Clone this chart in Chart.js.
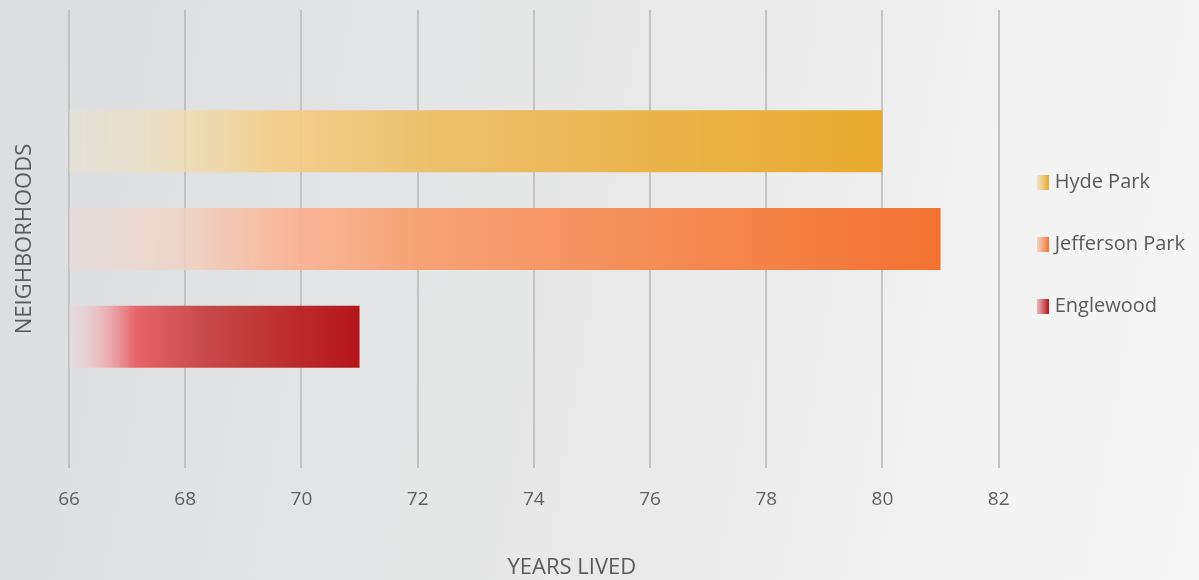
<!DOCTYPE html>
<html>
<head>
<meta charset="utf-8">
<script src="https://cdn.jsdelivr.net/npm/chart.js@4"></script>
<style>
  html, body { margin: 0; padding: 0; width: 1199px; height: 580px; overflow: hidden; }
  body { background: linear-gradient(100deg, #dcdddf 0%, #e3e4e5 30%, #ebebeb 60%, #f4f4f4 85%, #f6f6f6 100%); }
  canvas { display: block; }
</style>
</head>
<body>
<canvas id="c" width="1199" height="580"></canvas>
<script>
// ---- data ----
const neighborhoods = ['Hyde Park', 'Jefferson Park', 'Englewood'];
const yearsLived = [80, 81, 71];
const xMin = 66;
const xMax = 82;
const xStep = 2;
const xAxisTitle = 'YEARS LIVED';
const yAxisTitle = 'NEIGHBORHOODS';

// gradient stops per series (position along bar, colour)
const gradientStops = [
  [[0, 'rgba(238,228,205,0.35)'], [0.12, 'rgba(240,222,180,0.7)'], [0.25, 'rgba(242,206,138,0.95)'], [0.45, 'rgb(236,192,108)'], [1, 'rgb(232,168,44)']],
  [[0, 'rgba(240,220,212,0.35)'], [0.13, 'rgba(240,208,192,0.8)'], [0.24, 'rgba(248,182,152,0.95)'], [0.4, 'rgb(246,162,118)'], [1, 'rgb(243,114,48)']],
  [[0, 'rgba(235,215,218,0.35)'], [0.12, 'rgba(236,175,180,0.85)'], [0.23, 'rgb(230,100,106)'], [0.45, 'rgb(200,76,78)'], [0.72, 'rgb(190,48,50)'], [1, 'rgb(180,22,26)']]
];

function legendIcon(stops) {
  const cv = document.createElement('canvas');
  cv.width = 12; cv.height = 15;
  const g = cv.getContext('2d');
  const gr = g.createLinearGradient(0, 0, 12, 0);
  gr.addColorStop(0, stops[1][1]);
  gr.addColorStop(1, stops[stops.length - 1][1]);
  g.fillStyle = gr;
  g.fillRect(0, 0, 12, 15);
  return cv;
}
const icons = gradientStops.map(legendIcon);

function barFill(i) {
  return (ctx) => {
    const chart = ctx.chart;
    const x = chart.scales.x;
    if (!chart.chartArea || !x) return gradientStops[i][gradientStops[i].length - 1][1];
    const x0 = x.getPixelForValue(x.min);
    const x1 = x.getPixelForValue(yearsLived[i]);
    const gr = chart.ctx.createLinearGradient(x0, 0, x1, 0);
    gradientStops[i].forEach(([p, c]) => gr.addColorStop(p, c));
    return gr;
  };
}

const xTitlePlugin = {
  id: 'xTitle',
  afterDraw(chart) {
    const c = chart.ctx;
    c.save();
    c.font = '22px "Open Sans"';
    c.fillStyle = '#5a5a5a';
    c.textAlign = 'center';
    c.textBaseline = 'middle';
    c.fillText(xAxisTitle, chart.width * 0.477, chart.height - 12);
    c.restore();
  }
};

new Chart(document.getElementById('c'), {
  type: 'bar',
  data: {
    labels: [''],
    datasets: neighborhoods.map((n, i) => ({
      label: n,
      data: [yearsLived[i]],
      backgroundColor: barFill(i),
      borderWidth: 0,
      categoryPercentage: 0.64,
      barPercentage: 0.635
    }))
  },
  options: {
    indexAxis: 'y',
    responsive: false,
    animation: false,
    devicePixelRatio: 1,
    layout: { padding: { top: 10, right: 4, left: 0, bottom: 0 } },
    scales: {
      x: {
        min: xMin, max: xMax,
        ticks: { stepSize: xStep, padding: 20, color: '#5f5f5f', font: { family: 'Open Sans', size: 19 } },
        grid: { color: 'rgba(190,190,190,0.9)', lineWidth: 2, drawTicks: false },
        border: { display: false },
        afterFit: (s) => { s.height = 112; }
      },
      y: {
        ticks: { display: false },
        grid: { display: false },
        border: { display: false },
        title: { display: true, text: yAxisTitle, color: '#5a5a5a', font: { family: 'Open Sans', size: 22 }, padding: { top: 12, bottom: 0 } },
        afterFit: (s) => { s.width = 69; }
      }
    },
    plugins: {
      tooltip: { enabled: false },
      legend: {
        position: 'right',
        fullSize: false,
        title: { display: true, text: ' ', font: { size: 5 }, padding: { top: 2, bottom: 2 } },
        labels: {
          usePointStyle: true,
          pointStyleWidth: 4,
          padding: 42,
          color: '#5a5a5a',
          font: { family: 'Open Sans', size: 20 },
          generateLabels: (chart) => chart.data.datasets.map((ds, i) => ({
            text: ds.label,
            pointStyle: icons[i],
            fillStyle: 'transparent',
            strokeStyle: 'transparent',
            lineWidth: 0,
            hidden: false,
            datasetIndex: i,
            fontColor: '#5a5a5a'
          }))
        }
      }
    }
  },
  plugins: [xTitlePlugin]
});
</script>
</body>
</html>
